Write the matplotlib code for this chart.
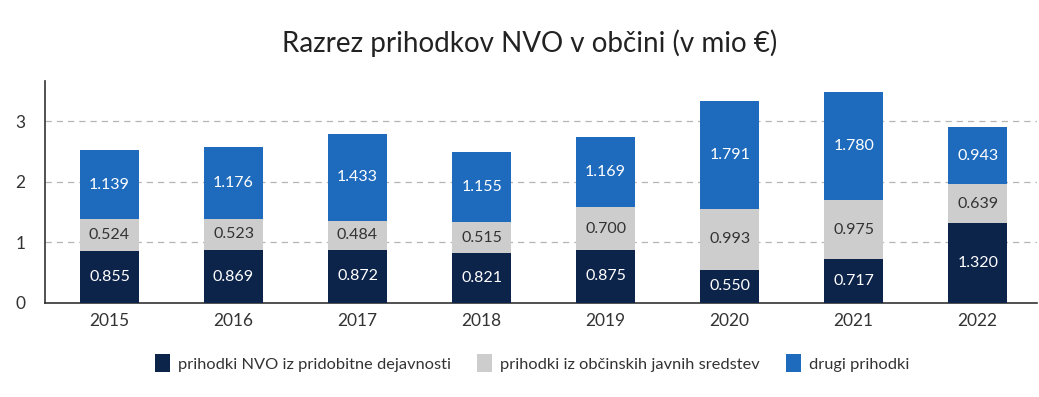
import matplotlib
matplotlib.use("Agg")
import matplotlib.pyplot as plt
import numpy as np

plt.rcParams['font.family'] = ['Lato', 'DejaVu Sans']

years = ["2015", "2016", "2017", "2018", "2019", "2020", "2021", "2022"]
pridobitne = [0.855, 0.869, 0.872, 0.821, 0.875, 0.550, 0.717, 1.320]
obcinska = [0.524, 0.523, 0.484, 0.515, 0.700, 0.993, 0.975, 0.639]
drugi = [1.139, 1.176, 1.433, 1.155, 1.169, 1.791, 1.780, 0.943]
series_names = ["prihodki NVO iz pridobitne dejavnosti",
                "prihodki iz občinskih javnih sredstev",
                "drugi prihodki"]
colors = ["#0c234a", "#cdcdcd", "#1e6bbd"]
text_colors = ["white", "#333333", "white"]

fig = plt.figure(figsize=(10.39, 3.97), dpi=100)
ax = fig.add_axes([0.0433, 0.237, 0.955, 0.559])

x = np.arange(len(years))
bottom = np.zeros(len(years))
handles = []
for vals, c, tc, name in zip([pridobitne, obcinska, drugi], colors, text_colors, series_names):
    vals = np.array(vals)
    b = ax.bar(x, vals, 0.48, bottom=bottom, color=c, label=name, zorder=3)
    handles.append(b)
    for xi, v, bt in zip(x, vals, bottom):
        ax.text(xi, bt + v / 2, f"{v:.3f}", ha="center", va="center",
                color=tc, fontsize=11.5, zorder=4)
    bottom = bottom + vals

ax.set_xlim(-0.52, 7.48)
ax.set_ylim(0, 3.66)
ax.set_yticks([0, 1, 2, 3])
ax.set_xticks(x)
ax.set_xticklabels(years)
ax.tick_params(axis='both', length=0, labelsize=12.5, colors="#333333")
ax.tick_params(axis='x', pad=7)
ax.tick_params(axis='y', pad=14)
ax.yaxis.grid(True, linestyle=(0, (5, 4)), color="#b5b5b5", linewidth=0.9, zorder=0)
for s in ["top", "right"]:
    ax.spines[s].set_visible(False)
ax.spines["left"].set_color("#333333")
ax.spines["bottom"].set_color("#333333")
ax.spines["left"].set_linewidth(1.2)
ax.spines["bottom"].set_linewidth(1.2)

fig.text(0.51, 0.89, "Razrez prihodkov NVO v občini (v mio €)", ha="center", va="center",
         fontsize=20, color="#222222")

fig.legend(handles=handles, labels=series_names, loc="center", bbox_to_anchor=(0.512, 0.085),
           ncol=3, frameon=False, fontsize=11.8, handlelength=0.9, handleheight=1.3,
           handletextpad=0.5, columnspacing=1.6, labelcolor="#333333")

fig.savefig("out.png", dpi=100, facecolor="white")
